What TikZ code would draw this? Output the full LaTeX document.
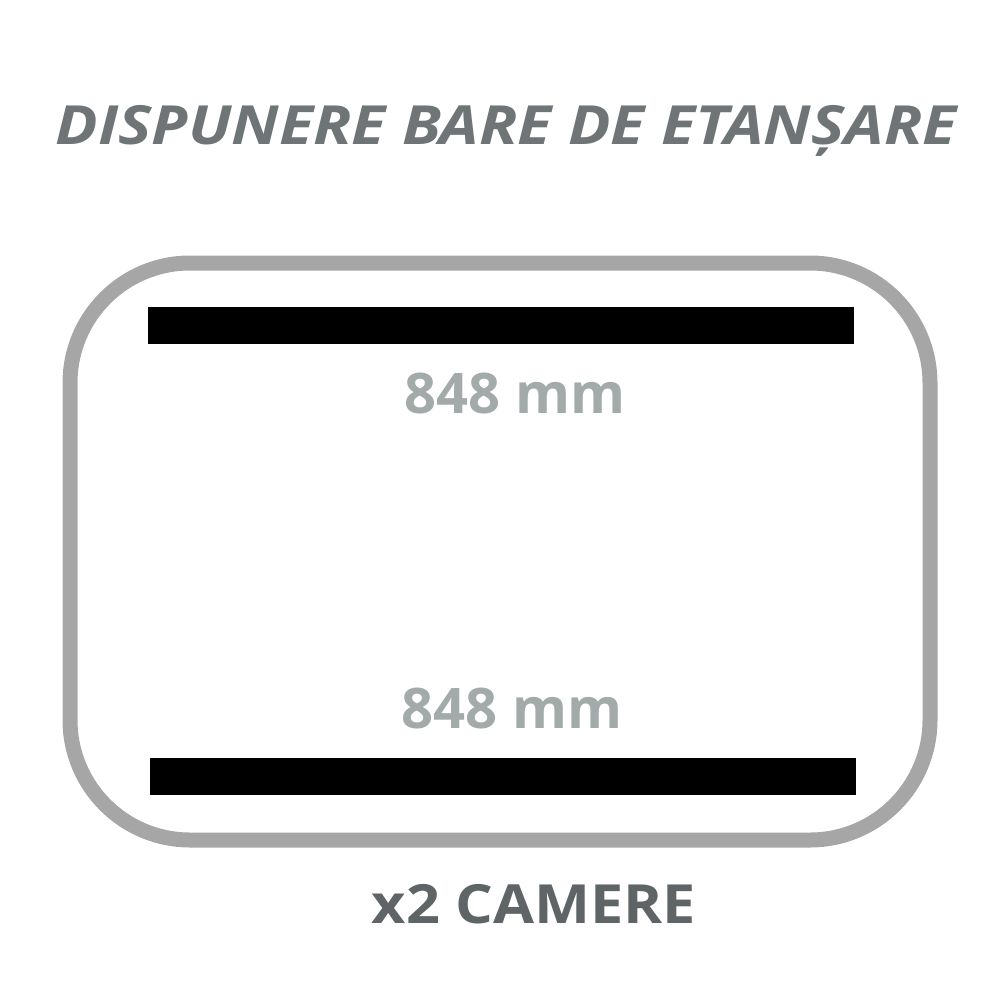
\documentclass[tikz,border=0pt]{standalone}
\usepackage{fontspec}
\setmainfont{Open Sans}
\usetikzlibrary{positioning}
\definecolor{titlegrey}{HTML}{6F7577}
\definecolor{labelgrey}{HTML}{A3AAAA}
\definecolor{framegrey}{HTML}{A6A6A6}
\definecolor{countgrey}{HTML}{5F6566}

\begin{document}
\begin{tikzpicture}
		[x=0.5pt,y=-0.5pt,
		bar/.style= {draw=none,fill=black,minimum width=353pt,minimum height=18.5pt,inner sep=0pt},
		size/.style= {font=\fontsize{28}{30}\selectfont\bfseries,text=labelgrey,anchor=base,inner sep=0pt}]

		\useasboundingbox (0,0) rectangle (1000,1000);

		\node[anchor=base,inner sep=0pt,text=titlegrey,xscale=1.165,font=\fontsize{27}{30}\selectfont\bfseries\itshape] (title) at (506,145) {DISPUNERE BARE DE ETANȘARE};

		\draw[framegrey,line width=7.5pt,rounded corners=60pt] (70,263) rectangle (930,840);

		\node[bar] (bartop) at (501,325.5) {};
		\node[size] (lentop) at (515,413) {848 mm};

		\node[size] (lenbot) at (512,728) {848 mm};
		\node[bar] (barbot) at (503,776.5) {};

		\node[anchor=base,inner sep=0pt,text=countgrey,xscale=1.1,font=\fontsize{27}{30}\selectfont\bfseries] (count) at (534,923) {x2 CAMERE};

	\end{tikzpicture}
\end{document}
